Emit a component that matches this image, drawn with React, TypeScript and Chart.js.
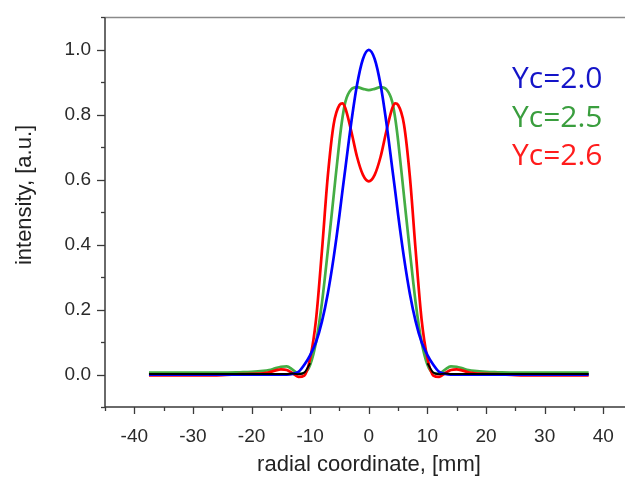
import React, { useEffect, useRef } from "react";
import { Chart, registerables } from "chart.js";

Chart.register(...registerables);

// radial coordinate [mm]
const xs = [-37.5, -30, -25, -22, -20, -18, -17, -16, -15, -14, -13, -12, -11, -10, -9, -8, -7, -6, -5, -4.5, -4, -3, -2, -1, 0,
  1, 2, 3, 4, 4.5, 5, 6, 7, 8, 9, 10, 11, 12, 13, 14, 15, 16, 17, 18, 20, 22, 25, 30, 37.5];

const blueYc20 = [0, 0, 0, 0, 0, 0, 0, 0, 0, 0, 0.002, 0.008, 0.03, 0.06, 0.1, 0.163, 0.249, 0.36, 0.492, 0.565, 0.635, 0.775, 0.893, 0.972, 1.0,
  0.972, 0.893, 0.775, 0.635, 0.565, 0.492, 0.36, 0.249, 0.163, 0.1, 0.06, 0.03, 0.008, 0.002, 0, 0, 0, 0, 0, 0, 0, 0, 0, 0];

const greenYc25 = [0.006, 0.006, 0.006, 0.007, 0.008, 0.011, 0.014, 0.019, 0.024, 0.025, 0.015, 0.003, 0.005, 0.03, 0.1, 0.22, 0.38, 0.55, 0.72, 0.79, 0.84, 0.878, 0.885, 0.88, 0.876,
  0.88, 0.885, 0.878, 0.84, 0.79, 0.72, 0.55, 0.38, 0.22, 0.1, 0.03, 0.005, 0.003, 0.015, 0.025, 0.024, 0.019, 0.014, 0.011, 0.008, 0.007, 0.006, 0.006, 0.006];

const redYc26 = [-0.003, -0.003, -0.002, 0.001, 0.002, 0.004, 0.007, 0.012, 0.016, 0.014, 0.004, -0.007, -0.003, 0.05, 0.17, 0.38, 0.61, 0.77, 0.83, 0.835, 0.82, 0.75, 0.67, 0.615, 0.595,
  0.615, 0.67, 0.75, 0.82, 0.835, 0.83, 0.77, 0.61, 0.38, 0.17, 0.05, -0.003, -0.007, 0.004, 0.014, 0.016, 0.012, 0.007, 0.004, 0.002, 0.001, -0.002, -0.003, -0.003];

const blackBase = [0.002, 0.002, 0.002, 0.002, 0.002, 0.002, 0.002, 0.002, 0.002, 0.002, 0.003, 0.001, 0.006, 0.035, null, null, null, null, null, null, null, null, null, null, null,
  null, null, null, null, null, null, null, null, null, null, 0.035, 0.006, 0.001, 0.003, 0.002, 0.002, 0.002, 0.002, 0.002, 0.002, 0.002, 0.002, 0.002, 0.002];

const xTickValues = [-45, -40, -35, -30, -25, -20, -15, -10, -5, 0, 5, 10, 15, 20, 25, 30, 35, 40];
const yTickValues = [-0.1, 0, 0.1, 0.2, 0.3, 0.4, 0.5, 0.6, 0.7, 0.8, 0.9, 1.0, 1.1];

const legendLabels = ["Yc=2.0", "Yc=2.5", "Yc=2.6"];
const legendColors = ["#1414c8", "#3a9e3e", "#ff1c1c"];

const toPts = (ys: (number | null)[]) => xs.map((x, i) => ({ x, y: ys[i] }));

const decorPlugin = {
  id: "decor",
  afterDraw(chart: any) {
    const { ctx, chartArea, scales } = chart;
    const { left, right, top, bottom } = chartArea;
    const x = scales.x;
    const y = scales.y;
    ctx.save();
    // top frame
    ctx.strokeStyle = "#8a8a8a";
    ctx.lineWidth = 1.5;
    ctx.beginPath();
    ctx.moveTo(left, top);
    ctx.lineTo(right, top);
    ctx.stroke();
    // axes
    ctx.strokeStyle = "#3a3a3a";
    ctx.lineWidth = 1.5;
    ctx.beginPath();
    ctx.moveTo(left, top);
    ctx.lineTo(left, bottom);
    ctx.lineTo(right, bottom);
    ctx.stroke();
    // x ticks
    ctx.lineWidth = 1.3;
    for (const v of xTickValues) {
      const px = Math.round(x.getPixelForValue(v)) + 0.5;
      const major = Math.abs(v % 10) < 1e-9;
      ctx.beginPath();
      ctx.moveTo(px, bottom);
      ctx.lineTo(px, bottom + (major ? 7 : 4));
      ctx.stroke();
    }
    for (const v of yTickValues) {
      const py = Math.round(y.getPixelForValue(v)) + 0.5;
      const major = Math.round(v * 10) % 2 === 0;
      ctx.beginPath();
      ctx.moveTo(left, py);
      ctx.lineTo(left - (major ? 8 : 4), py);
      ctx.stroke();
    }
    // axis titles
    ctx.fillStyle = "#222";
    ctx.font = '22px "Liberation Sans", Arial, sans-serif';
    ctx.textAlign = "center";
    ctx.textBaseline = "middle";
    ctx.fillText("radial coordinate, [mm]", 369, 465);
    ctx.save();
    ctx.translate(25, 195);
    ctx.rotate(-Math.PI / 2);
    ctx.fillText("intensity, [a.u.]", 0, 0);
    ctx.restore();
    // legend text
    ctx.font = '30px "Open Sans", "Noto Sans", sans-serif';
    ctx.textAlign = "left";
    ctx.textBaseline = "alphabetic";
    const baselines = [88, 127, 165];
    legendLabels.forEach((t, i) => {
      ctx.fillStyle = legendColors[i];
      ctx.fillText(t, 512, baselines[i]);
    });
    ctx.restore();
  },
};

export default function App() {
  const ref = useRef<HTMLCanvasElement | null>(null);
  useEffect(() => {
    if (!ref.current) return;
    const common = { pointRadius: 0, borderWidth: 2.7, cubicInterpolationMode: "monotone" as const, fill: false, spanGaps: false };
    const chart = new Chart(ref.current, {
      type: "line",
      data: {
        datasets: [
          { label: "base", data: toPts(blackBase), borderColor: "#000000", order: 0, ...common, borderWidth: 2 },
          { label: "Yc=2.0", data: toPts(blueYc20), borderColor: "#0000ff", order: 1, ...common },
          { label: "Yc=2.6", data: toPts(redYc26), borderColor: "#ff0000", order: 2, ...common },
          { label: "Yc=2.5", data: toPts(greenYc25), borderColor: "#44ad44", order: 3, ...common },
        ],
      },
      options: {
        responsive: false,
        animation: false,
        devicePixelRatio: 1,
        layout: { padding: { top: 14, right: 0, left: 0, bottom: 0 } },
        plugins: { legend: { display: false }, tooltip: { enabled: false } },
        scales: {
          x: {
            type: "linear",
            min: -45,
            max: 43.7,
            afterBuildTicks: (axis: any) => {
              axis.ticks = xTickValues.map((v) => ({ value: v }));
            },
            afterFit: (axis: any) => {
              axis.height = 73;
            },
            grid: { display: true, drawOnChartArea: false, drawTicks: true, tickLength: 8, color: "rgba(0,0,0,0)" },
            border: { display: false },
            ticks: {
              padding: 10,
              color: "#2a2a2a",
              font: { family: '"Liberation Sans", Arial, sans-serif', size: 19 },
              maxRotation: 0,
              autoSkip: false,
              callback: (v: any) => (Math.abs(v % 10) < 1e-9 && v >= -40 && v <= 40 ? String(v) : ""),
            },
          },
          y: {
            type: "linear",
            min: -0.1,
            max: 1.1,
            afterBuildTicks: (axis: any) => {
              axis.ticks = yTickValues.map((v) => ({ value: v }));
            },
            afterFit: (axis: any) => {
              axis.width = 105;
            },
            grid: { display: true, drawOnChartArea: false, drawTicks: true, tickLength: 8, color: "rgba(0,0,0,0)" },
            border: { display: false },
            ticks: {
              padding: 6,
              color: "#2a2a2a",
              font: { family: '"Liberation Sans", Arial, sans-serif', size: 19 },
              autoSkip: false,
              callback: (v: any) => {
                const k = Math.round(v * 10);
                return k >= 0 && k <= 10 && k % 2 === 0 ? (k / 10).toFixed(1) : "";
              },
            },
          },
        },
      },
      plugins: [decorPlugin],
    });
    return () => chart.destroy();
  }, []);
  return (
    <div style={{ position: "absolute", left: 0, top: 0, width: 625, height: 480, background: "#fff" }}>
      <canvas ref={ref} width={625} height={480} style={{ display: "block" }} />
    </div>
  );
}
